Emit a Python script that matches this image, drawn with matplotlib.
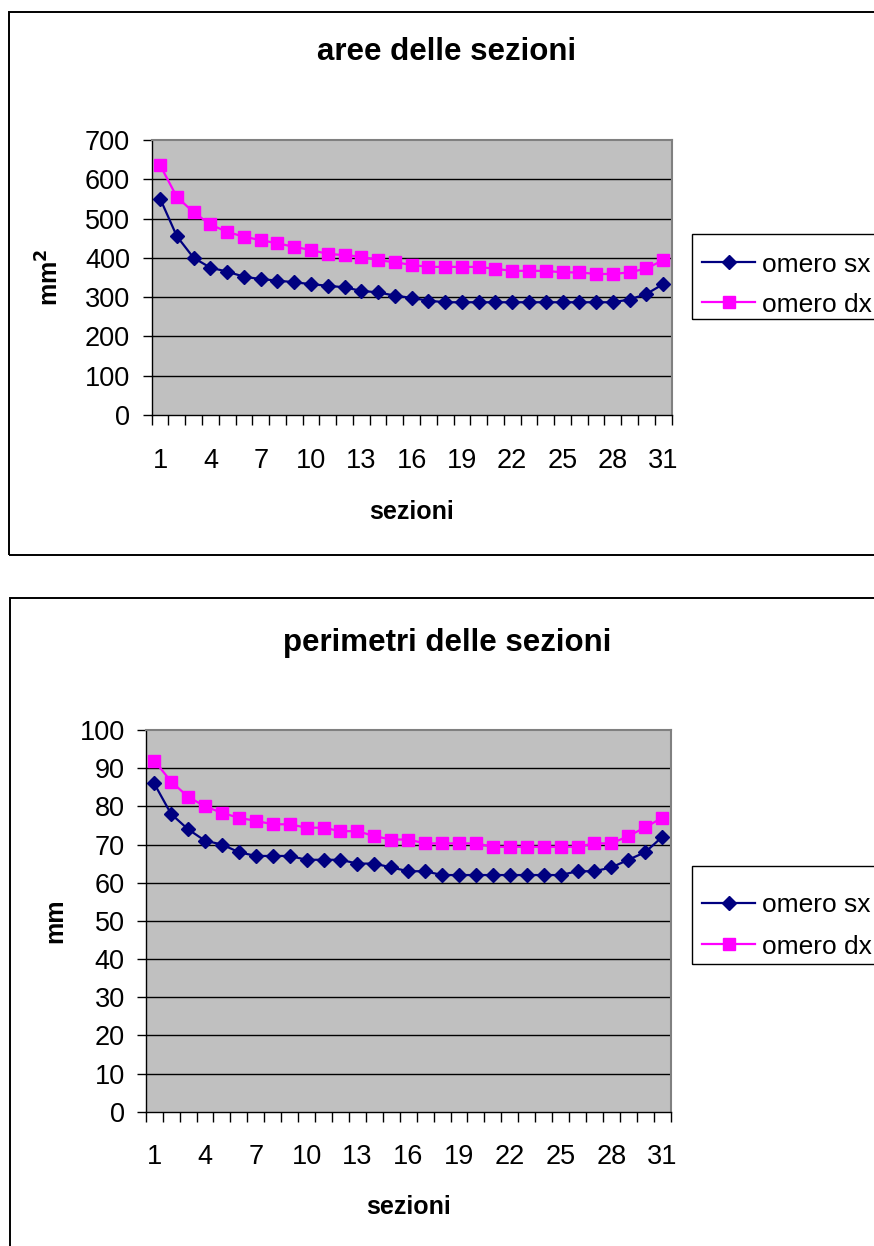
import matplotlib
matplotlib.use("Agg")
import matplotlib.pyplot as plt
from matplotlib.patches import Rectangle
from matplotlib.lines import Line2D

plt.rcParams['font.family'] = ['Liberation Sans', 'DejaVu Sans']

# ---- data ----
sections = list(range(1, 32))
tick_labels = ['1', '4', '7', '10', '13', '16', '19', '22', '25', '28', '31']

area_sx = [551, 455, 400, 375, 365, 352, 346, 342, 338, 333, 329, 325, 316, 312, 304,
           298, 291, 287, 287, 287, 287, 287, 287, 287, 287, 287, 287, 287, 294, 308, 333]
area_dx = [636, 555, 516, 485, 466, 454, 445, 437, 428, 420, 410, 407, 403, 394, 389,
           382, 377, 377, 377, 377, 372, 367, 367, 367, 363, 363, 359, 359, 363, 373, 394]

perim_sx = [86, 78, 74, 71, 70, 68, 67, 67, 67, 66, 66, 66, 65, 65, 64,
            63, 63, 62, 62, 62, 62, 62, 62, 62, 62, 63, 63, 64, 66, 68, 72]
perim_dx = [92, 86.5, 82.5, 80, 78.3, 77, 76.2, 75.3, 75.3, 74.4, 74.4, 73.5, 73.5, 72.2, 71.3,
            71.3, 70.3, 70.3, 70.3, 70.3, 69.4, 69.4, 69.4, 69.4, 69.4, 69.4, 70.3, 70.3, 72.2, 74.5, 77]

series_names = ['omero sx', 'omero dx']
series_colors = ['#000080', '#FF00FF']
series_markers = ['D', 's']
marker_sizes = [7.2, 9]

W, H = 874, 1246
fig = plt.figure(figsize=(W / 100, H / 100), dpi=100)
fig.patch.set_facecolor('white')


def fx(x):
    return x / W


def fy(y):
    return 1 - y / H


def frame(l, t, r, b, lw=1.4):
    fig.patches.append(Rectangle((fx(l), fy(b)), fx(r - l), (b - t) / H,
                                 transform=fig.transFigure, fill=False,
                                 edgecolor='#000000', linewidth=lw, clip_on=False))


def legend_box(top, bottom, rows):
    """Legend drawn in figure pixels: frame, line-with-marker keys and labels."""
    frame(692, top, 890, bottom, lw=1)
    for y, name, col, mk, ms in zip(rows, series_names, series_colors,
                                    series_markers, marker_sizes):
        fig.lines.append(Line2D([fx(702), fx(755)], [fy(y), fy(y)],
                                transform=fig.transFigure, color=col, lw=1.6))
        fig.lines.append(Line2D([fx(728.5)], [fy(y)], transform=fig.transFigure,
                                color=col, marker=mk, ms=ms, mew=1, ls='none'))
        fig.text(fx(762), fy(y), name, ha='left', va='center_baseline', fontsize=19)


def panel(box, sx, dx, ymax, ystep, title, ylabel, title_y, ylabel_x, xlabel_y,
          ylabel_pad):
    l, t, r, b = box
    ax = fig.add_axes([fx(l), fy(b), fx(r - l), (b - t) / H])
    ax.set_facecolor('#C0C0C0')
    for vals, name, col, mk, ms in zip((sx, dx), series_names, series_colors,
                                       series_markers, marker_sizes):
        ax.plot(sections, vals, color=col, lw=1.6, marker=mk, ms=ms,
                mec=col, mfc=col, mew=1, label=name, zorder=3)
    ax.set_xlim(0.5, 31.5)
    ax.set_ylim(0, ymax)
    yt = list(range(0, ymax + 1, ystep))
    ax.set_yticks(yt)
    ax.set_yticklabels([str(v) for v in yt])
    for v in yt[1:-1]:
        ax.axhline(v, color='black', lw=1, zorder=1)
    ax.set_xticks([int(s) for s in tick_labels])
    ax.set_xticklabels(tick_labels)
    ax.set_xticks([s + 0.5 for s in [0] + sections], minor=True)
    ax.tick_params(axis='x', which='major', length=0, pad=23.5, labelsize=19.5)
    ax.tick_params(axis='x', which='minor', length=7, width=1, direction='out', color='black')
    ax.tick_params(axis='y', which='major', length=6.5, width=1, direction='out',
                   pad=ylabel_pad, labelsize=19.5, color='black')
    for side in ('top', 'right'):
        ax.spines[side].set_color('#808080')
        ax.spines[side].set_linewidth(1.5)
    for side in ('left', 'bottom'):
        ax.spines[side].set_color('black')
        ax.spines[side].set_linewidth(1)

    fig.text(fx(447), fy(title_y), title, ha='center', va='center',
             fontsize=22.5, fontweight='bold')
    fig.text(fx((l + r) / 2), fy(xlabel_y), 'sezioni', ha='center', va='center',
             fontsize=18, fontweight='bold')
    fig.text(fx(ylabel_x), fy((t + b) / 2), ylabel, ha='center', va='center',
             rotation=90, fontsize=18, fontweight='bold')
    return ax


# ---- chart frames ----
frame(9, 12, 890, 555)
frame(10, 598, 890, 1270)

panel((151.7, 140, 671.5, 415), area_sx, area_dx, 700, 100,
      'aree delle sezioni', r'mm$^{\mathbf{2}}$', 52, 50, 512, 9)
legend_box(234, 319, (262, 302))

panel((145.7, 730, 670.7, 1111.7), perim_sx, perim_dx, 100, 10,
      'perimetri delle sezioni', 'mm', 643, 55, 1207, 8.5)
legend_box(866, 964, (903, 944))

fig.savefig('out.png', dpi=100, facecolor='white')
